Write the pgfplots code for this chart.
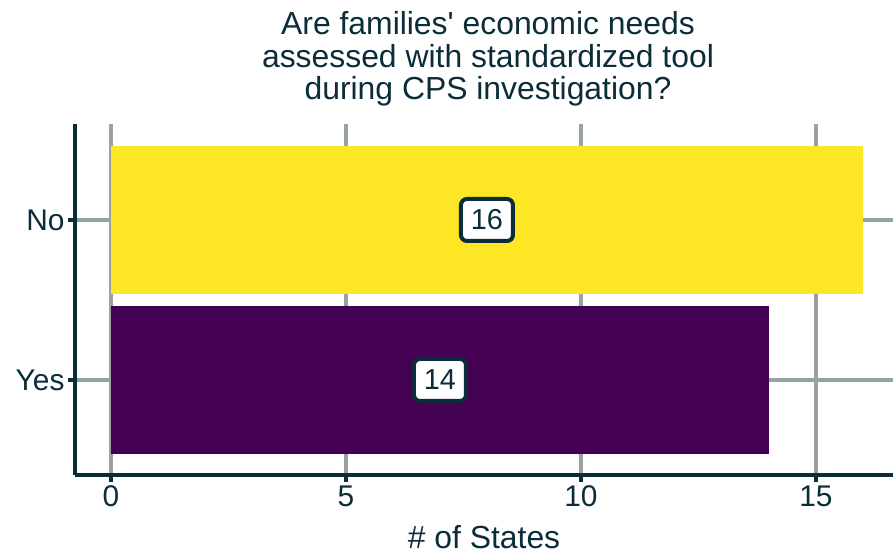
\documentclass[border=0pt]{standalone}
\usepackage{fontspec}
\setmainfont{Liberation Sans}
\usepackage{pgfplots}
\pgfplotsset{compat=1.18}
\definecolor{txt}{HTML}{0B2D39}
\definecolor{gridc}{HTML}{96A3A3}
\definecolor{yel}{HTML}{FDE725}
\definecolor{pur}{HTML}{440154}
\begin{document}
\begin{tikzpicture}
\begin{axis}[
  scale only axis, width=818bp, height=351bp,
  xmin=-0.766, xmax=16.64, ymin=0.406, ymax=2.6,
  axis x line*=bottom, axis y line*=left,
  axis line style={txt, line width=4.5bp, -},
  xtick={0,5,10,15}, ytick={1,2}, yticklabels={Yes,No},
  minor tick num=0,
  tick align=outside, major tick length=7bp,
  major tick style={txt, line width=4bp},
  grid=major, major grid style={gridc, line width=4.2bp},
  ticklabel style={font=\fontsize{30}{30}\selectfont, text=txt},
  /pgf/number format/assume math mode=true,
  xlabel={\# of States},
  xlabel style={font=\fontsize{32}{32}\selectfont, text=txt, at={(axis description cs:0.5,0)}, anchor=base, yshift=-73bp},
]
\addplot[xbar, bar width=0.93, bar shift=0pt, fill=yel, draw=none] coordinates {(16,2)};
\addplot[xbar, bar width=0.93, bar shift=0pt, fill=pur, draw=none] coordinates {(14,1)};
\addplot[only marks, mark=none, nodes near coords, point meta=explicit symbolic,
  nodes near coords style={anchor=center, fill=white, draw=txt, line width=4bp, rounded corners=6bp,
    inner sep=0pt, minimum width=52bp, minimum height=42bp, text=txt, font=\fontsize{29}{29}\selectfont}]
  coordinates {(8,2) [16] (7,1) [14]};
\end{axis}
\begin{scope}[every node/.style={anchor=base, inner sep=0pt, text=txt, font=\fontsize{32}{32}\selectfont}]
\node at ([xshift=4bp,yshift=89bp]current axis.north) {Are families\textquotesingle{} economic needs};
\node at ([xshift=4bp,yshift=56.5bp]current axis.north) {assessed with standardized tool};
\node at ([xshift=4bp,yshift=24bp]current axis.north) {during CPS investigation?};
\end{scope}
\pgfresetboundingbox
\path[use as bounding box] ([xshift=-75bp,yshift=-79bp]current axis.south west) rectangle ([yshift=124bp]current axis.north east);
\end{tikzpicture}
\end{document}
